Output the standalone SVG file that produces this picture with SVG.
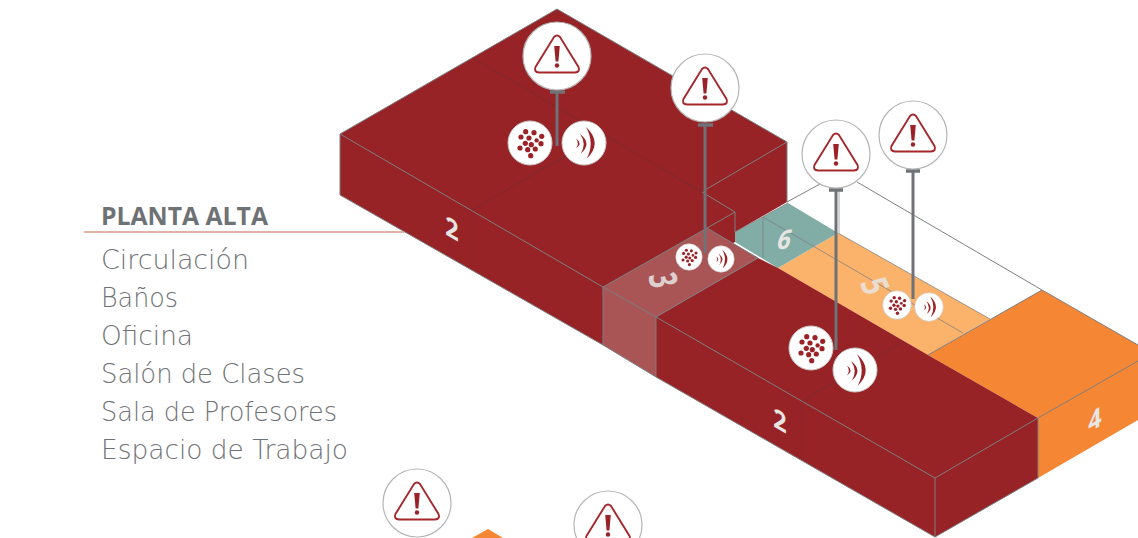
<svg xmlns="http://www.w3.org/2000/svg" width="1138" height="538" viewBox="0 0 1138 538">
<style>
.ln{fill:none;stroke:#7d7f82;stroke-width:1}
.fl{fill:none;stroke:#6a3032;stroke-width:1;opacity:.65}
.fv{fill:none;stroke:#6a3032;stroke-width:.8;opacity:.25}
.lbl{font-family:"DejaVu Sans","Liberation Sans",sans-serif;font-weight:200;font-size:26px;fill:#6f7275}
.ttl{font-family:"Open Sans","Liberation Sans",sans-serif;font-weight:700;font-size:25px;fill:#6f7275}
.num{font-family:"Noto Sans","Liberation Sans",sans-serif;font-weight:700;font-size:27px;fill:#e8e6e4;text-anchor:middle}
.stem{fill:none;stroke:#6f7377;stroke-width:3}
.bar{fill:none;stroke:#6f7377;stroke-width:3.5}
.c{fill:#9b2226}
</style>
<defs>
<g id="warn">
<circle r="34" fill="#fff" stroke="#b5b5b5" stroke-width="1.2"/>
<path d="M-3,-19 Q0,-22 3,-19 L21.5,11 Q23.5,16 18,16.5 L-18,16.5 Q-23.5,16 -21.5,11 Z" fill="none" stroke="#a5282c" stroke-width="1.9"/>
<path d="M-2.8,-10 L2.8,-10 L1.4,5.5 L-1.4,5.5 Z" class="c"/>
<circle cy="9.5" r="2.2" class="c"/>
</g>
<g id="dots">
<circle r="22" fill="#fff" stroke="#c9c9c9" stroke-width="1"/>
<g class="c">
<circle cx="-4.3" cy="-11.3" r="2.6"/><circle cx="4" cy="-10.3" r="2.6"/><circle cx="-9" cy="-6" r="2.6"/>
<circle cx="-1" cy="-5" r="2.6"/><circle cx="6.6" cy="-2.6" r="2.2"/><circle cx="11.7" cy="-6.7" r="2.6"/>
<circle cx="-4.7" cy=".3" r="2.6"/><circle cx="1.3" cy="1.7" r="2.6"/>
<circle cx="11" cy=".7" r="2.6"/><circle cx="-10" cy="5" r="2.6"/><circle cx="-2.3" cy="6.7" r="2.6"/>
<circle cx="5.3" cy="6" r="2.6"/><circle cx=".7" cy="12.7" r="2.6"/>
</g>
</g>
<g id="snd">
<circle r="22" fill="#fff" stroke="#c9c9c9" stroke-width="1"/>
<g class="c">
<path d="M-8,-4.5 Q-1,.5 -8,5.5 Q-4.5,.5 -8,-4.5Z"/>
<path d="M-4,-9 Q8.5,.5 -3.3,10.7 Q3,.5 -4,-9Z"/>
<path d="M2,-16 Q19,0 2.7,15.7 Q11,0 2,-16Z"/>
</g>
</g>
</defs>

<g id="bloque-planta">
<polygon id="zona-5-base" points="838,233 990,319 928,355 778,268" fill="#fbb26a"/>
<polygon id="zona-6" points="788,203 838,233 778,268 735,242 735,232" fill="#82aca6"/>
<polygon id="zona-4" points="928,355 1042,290 1138,345 1138,420 1038,478 1038,418" fill="#f58634"/>
<polygon id="zona-2-a" points="557,9 787,142 787,202 735,232 735,242 707,258 656,287 603,287 603,345 340,195 340,134" fill="#972326"/>
<polygon id="zona-3" points="707,228 758,258 656,317 656,377 603,345 603,287" fill="#a95556"/>
<polygon id="zona-2-b" points="758,258 778,268 928,355 1038,418 1038,478 935,537 656,377 656,317" fill="#972326"/>
<polygon id="zona-abajo" points="488,529 503,538 472,538" fill="#f58634"/>
</g>

<g id="conectores">
<g class="ln">
<path d="M340,134 L603,287 M340,134 V195 L603,345"/>
<path d="M557,9 L340,134 M557,9 L787,142 V202"/>
<path d="M787,142 L705,190 M702,192 L735,212 V232 M735,212 L707,228"/>
<path d="M603,287 L707,228 L758,258 L656,317 V377 M603,287 V345 L656,377 L935,537 M656,317 L935,478 V537 M656,317 L603,287"/>
<path d="M935,478 L1038,418 V478 M935,537 L1038,478 M1038,418 L1138,361"/>
<path d="M787,202 L820,184 M857,182 L1042,290 L1138,345 M928,355 L1042,290"/>
<path d="M763,217 L963,333 M763,217 V258 M838,233 L990,319 M735,232 L788,203" opacity=".75"/>
</g>
<path class="fl" d="M473,58 L702,192 M472,210 L567,155 M903,342 L802,401"/>
<path class="fv" d="M472,210 V270 M802,401 V460"/>
<path d="M839,190 V233" fill="none" stroke="#d6d6d6" stroke-width="2"/>
<path class="stem" d="M557,92 V146 M705,125 V253 M836,190 V350 M913,171 V299"/>
<path class="bar" d="M550,92 H565 M698,125 H713 M829,190 H843 M906,171 H920"/>
</g>

<g id="aviso-1"><use href="#warn" x="557" y="56"/><use href="#dots" x="530" y="143"/><use href="#snd" x="584" y="143"/></g>
<g id="aviso-2"><use href="#warn" x="705" y="88"/><use href="#dots" transform="translate(689,257) scale(.6)"/><use href="#snd" transform="translate(721,259) scale(.6)"/></g>
<g id="aviso-3"><use href="#warn" x="836" y="154"/><use href="#dots" x="811" y="348"/><use href="#snd" x="855" y="370"/></g>
<g id="aviso-4"><use href="#warn" x="913" y="135"/><use href="#dots" transform="translate(897,305) scale(.65)"/><use href="#snd" transform="translate(929,307) scale(.65)"/></g>
<g id="aviso-5"><use href="#warn" x="417" y="503"/></g>
<g id="aviso-6"><use href="#warn" x="608" y="525"/></g>

<g id="numeros">
<text class="num" transform="matrix(.866,.5,0,1,452,238)">2</text>
<text class="num" transform="matrix(.866,.5,0,1,780,430)">2</text>
<text class="num" transform="matrix(.2,.9,-1.4,.25,649.7,282.4)" opacity=".85">3</text>
<text class="num" transform="matrix(.866,-.5,0,1,1095,429)">4</text>
<text class="num" transform="matrix(.4,.9,-1.3,.4,862.6,289.8)" opacity=".85">5</text>
<text class="num" transform="matrix(.85,0,-.28,1,782,249)">6</text>
</g>

<g id="leyenda">
<path d="M84,232 H404" stroke="#d39a84" stroke-width="1.4" fill="none"/>
<text class="ttl" x="101" y="225" textLength="167" lengthAdjust="spacingAndGlyphs">PLANTA ALTA</text>
<text class="lbl" x="101" y="269" textLength="148" lengthAdjust="spacingAndGlyphs">Circulación</text>
<text class="lbl" x="101" y="307" textLength="77" lengthAdjust="spacingAndGlyphs">Baños</text>
<text class="lbl" x="101" y="345" textLength="92" lengthAdjust="spacingAndGlyphs">Oficina</text>
<text class="lbl" x="101" y="383" textLength="204" lengthAdjust="spacingAndGlyphs">Salón de Clases</text>
<text class="lbl" x="101" y="421" textLength="236" lengthAdjust="spacingAndGlyphs">Sala de Profesores</text>
<text class="lbl" x="101" y="459" textLength="247" lengthAdjust="spacingAndGlyphs">Espacio de Trabajo</text>
</g>
</svg>
